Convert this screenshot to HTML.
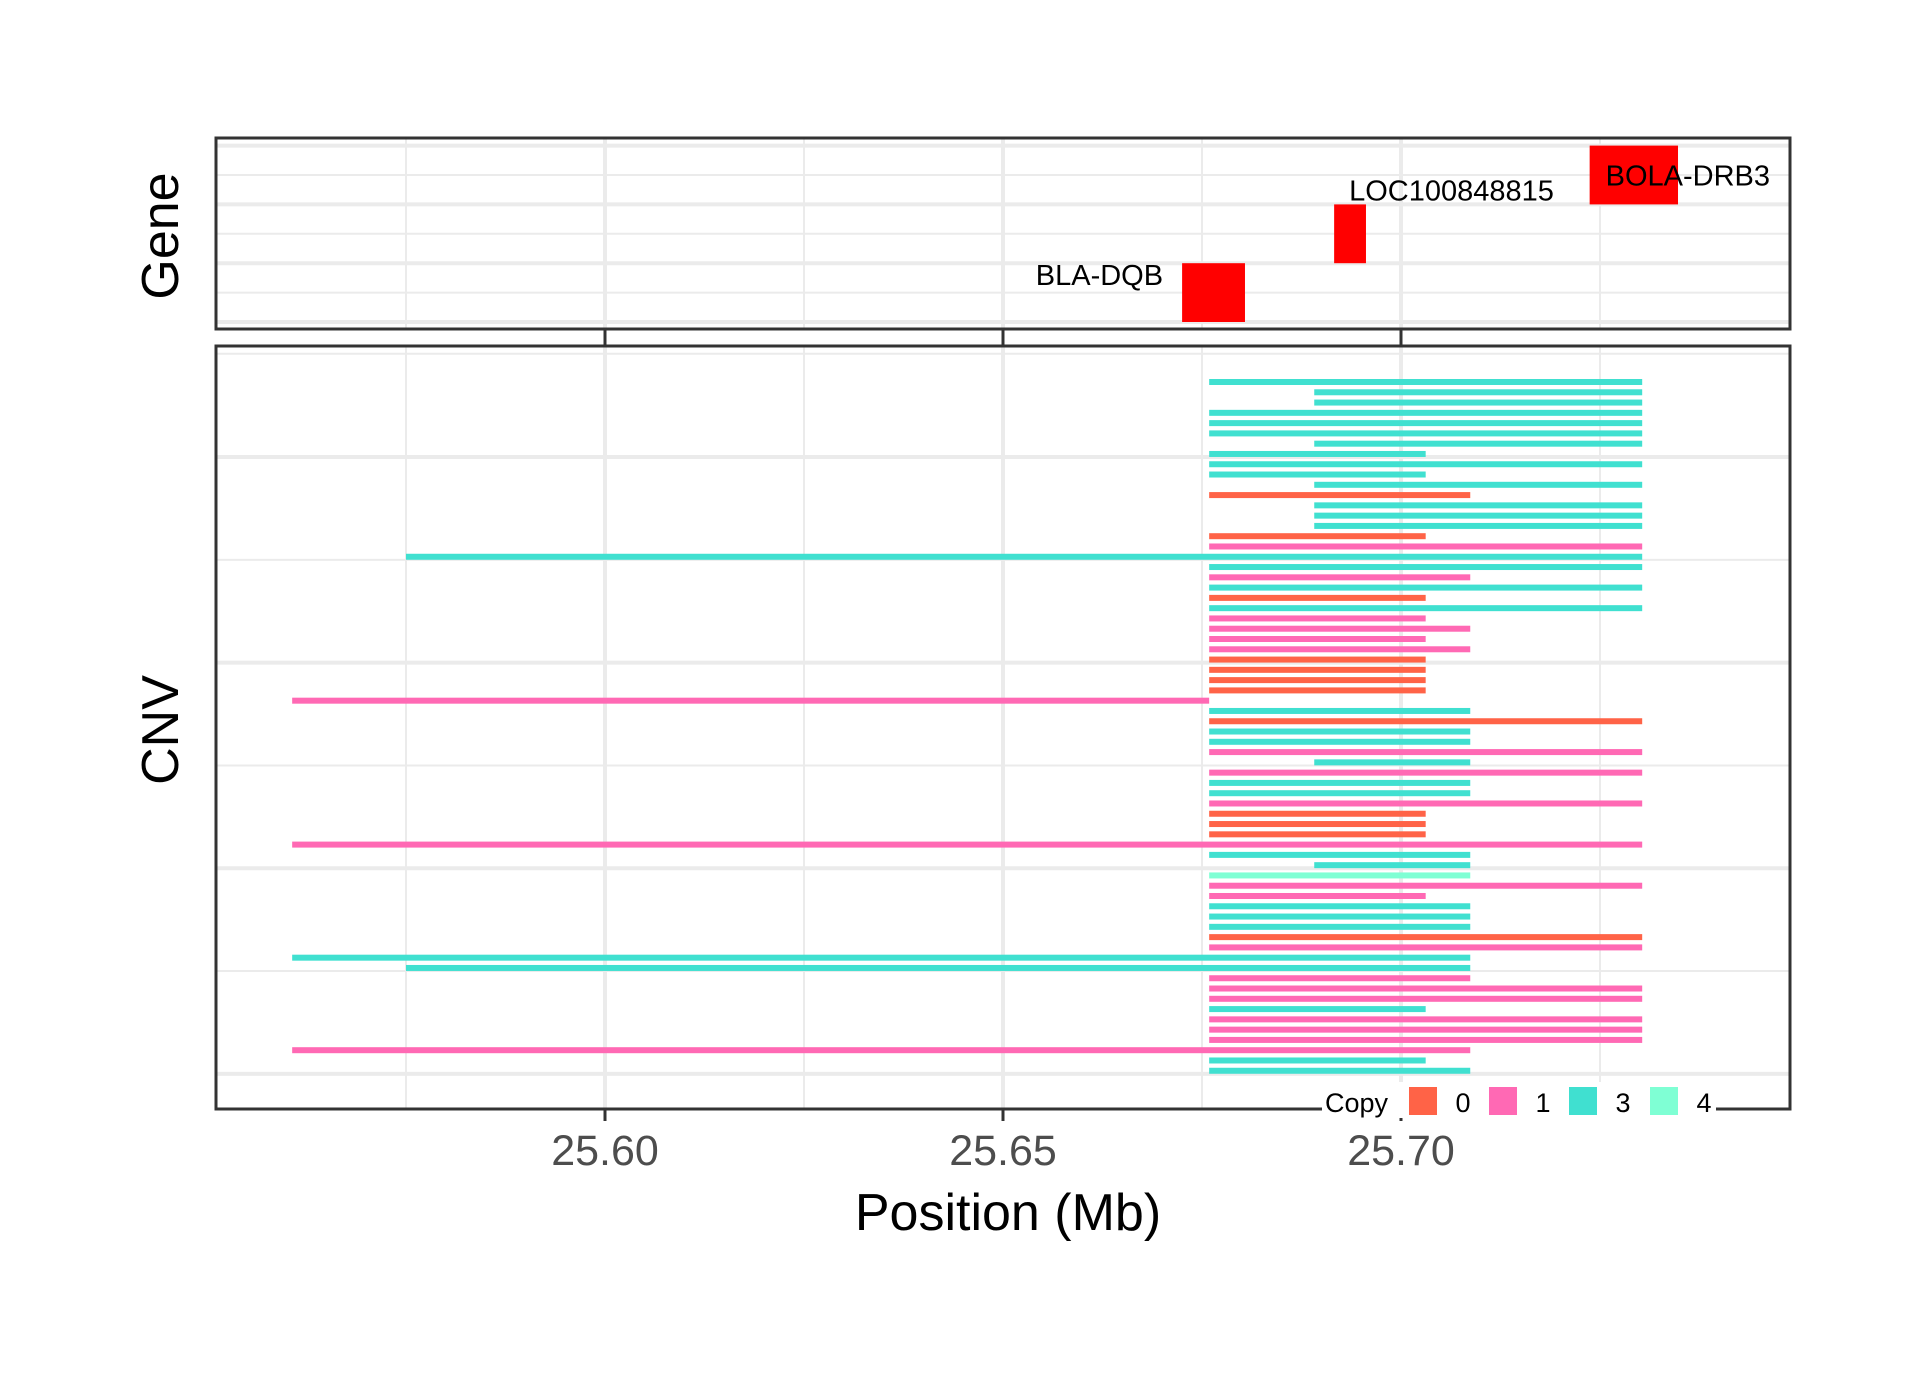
<!DOCTYPE html>
<html><head><meta charset="utf-8">
<style>
html,body{margin:0;padding:0;background:#fff;}
svg{display:block;font-family:"Liberation Sans",Arial,sans-serif;}
</style></head>
<body>
<svg id="chart" width="1929" height="1377" viewBox="0 0 1929 1377" xmlns="http://www.w3.org/2000/svg">
<rect x="0" y="0" width="1929" height="1377" fill="#fff"/>
<g id="gene-grid"></g>
<g id="cnv-grid"></g>
<g id="gene-marks"></g>
<g id="cnv-marks"></g>
<rect x="216" y="138" width="1574" height="191" fill="none" stroke="#333" stroke-width="3"/>
<rect x="216" y="346" width="1574" height="763" fill="none" stroke="#333" stroke-width="3"/>
<g id="ticks"></g>
<g id="legend"></g>
<text x="178" y="236" font-size="52" text-anchor="middle" transform="rotate(-90 178 236)" fill="#000">Gene</text>
<text x="178" y="730" font-size="52" text-anchor="middle" transform="rotate(-90 178 730)" fill="#000">CNV</text>
<text x="1008" y="1230" font-size="52" text-anchor="middle" fill="#000">Position (Mb)</text>
</svg>
<script>
// ---- data ----
const xTickValues = [25.60, 25.65, 25.70];
const xTickLabels = ["25.60", "25.65", "25.70"];
const xMinorValues = [25.575, 25.625, 25.675, 25.725];
const geneNames = ["BOLA-DRB3", "LOC100848815", "BLA-DQB"];
const geneStarts = [25.7237, 25.6916, 25.6725];
const geneEnds = [25.7348, 25.6956, 25.6804];
const geneLevels = [3, 2, 1];
const cnvStarts = [25.6759,25.6891,25.6891,25.6759,25.6759,25.6759,25.6891,25.6759,25.6759,25.6759,25.6891,25.6759,25.6891,25.6891,25.6891,25.6759,25.6759,25.5750,25.6759,25.6759,25.6759,25.6759,25.6759,25.6759,25.6759,25.6759,25.6759,25.6759,25.6759,25.6759,25.6759,25.5607,25.6759,25.6759,25.6759,25.6759,25.6759,25.6891,25.6759,25.6759,25.6759,25.6759,25.6759,25.6759,25.6759,25.5607,25.6759,25.6891,25.6759,25.6759,25.6759,25.6759,25.6759,25.6759,25.6759,25.6759,25.5607,25.5750,25.6759,25.6759,25.6759,25.6759,25.6759,25.6759,25.6759,25.5607,25.6759,25.6759];
const cnvEnds = [25.7303,25.7303,25.7303,25.7303,25.7303,25.7303,25.7303,25.7031,25.7303,25.7031,25.7303,25.7087,25.7303,25.7303,25.7303,25.7031,25.7303,25.7303,25.7303,25.7087,25.7303,25.7031,25.7303,25.7031,25.7087,25.7031,25.7087,25.7031,25.7031,25.7031,25.7031,25.6759,25.7087,25.7303,25.7087,25.7087,25.7303,25.7087,25.7303,25.7087,25.7087,25.7303,25.7031,25.7031,25.7031,25.7303,25.7087,25.7087,25.7087,25.7303,25.7031,25.7087,25.7087,25.7087,25.7303,25.7303,25.7087,25.7087,25.7087,25.7303,25.7303,25.7031,25.7303,25.7303,25.7303,25.7087,25.7031,25.7087];
const cnvCopy = [3,3,3,3,3,3,3,3,3,3,3,0,3,3,3,0,1,3,3,1,3,0,3,1,1,1,1,0,0,0,0,1,3,0,3,3,1,3,1,3,3,1,0,0,0,1,3,3,4,1,1,3,3,3,0,1,3,3,1,1,1,3,1,1,1,1,3,3];
const legendCopies = ["0", "1", "3", "4"];

// ---- scales ----
const NS = "http://www.w3.org/2000/svg";
const colorOf = {0:"#FF6347", 1:"#FF69B4", 3:"#40E0D0", 4:"#7FFFD4"};
function xs(v){ return 605 + (v - 25.60) * 7960; }
function yRow(i){ return 382 + i * 10.28; }
function yGene(l){ return 322 - (l - 0.5) * 58.8; }
function mk(tag, attrs, parent){
  const e = document.createElementNS(NS, tag);
  for (const k in attrs) e.setAttribute(k, attrs[k]);
  parent.appendChild(e);
  return e;
}
const geneGrid = document.getElementById('gene-grid');
const cnvGrid = document.getElementById('cnv-grid');
const geneMarks = document.getElementById('gene-marks');
const cnvMarks = document.getElementById('cnv-marks');
const ticks = document.getElementById('ticks');
const legend = document.getElementById('legend');

xMinorValues.forEach(v => {
  let l = mk('line', {x1:xs(v), x2:xs(v), y1:138, y2:329, stroke:"#EBEBEB", "stroke-width":2}, geneGrid);
  
  
  l = mk('line', {x1:xs(v), x2:xs(v), y1:346, y2:1109, stroke:"#EBEBEB", "stroke-width":2}, cnvGrid);
  
  
});
xTickValues.forEach(v => {
  let l = mk('line', {x1:xs(v), x2:xs(v), y1:138, y2:329, stroke:"#EBEBEB", "stroke-width":4}, geneGrid);
  
  
  l = mk('line', {x1:xs(v), x2:xs(v), y1:346, y2:1109, stroke:"#EBEBEB", "stroke-width":4}, cnvGrid);
  
  
});
[0.5,1.5,2.5,3.5].forEach(l => {
  const g = mk('line', {x1:216, x2:1790, y1:yGene(l), y2:yGene(l), stroke:"#EBEBEB", "stroke-width":4}, geneGrid);
  
  
});
[1,2,3].forEach(l => {
  const g = mk('line', {x1:216, x2:1790, y1:yGene(l), y2:yGene(l), stroke:"#EBEBEB", "stroke-width":2}, geneGrid);
  
  
});
[7.3,27.3,47.3,67.3].forEach(i => {
  const g = mk('line', {x1:216, x2:1790, y1:yRow(i), y2:yRow(i), stroke:"#EBEBEB", "stroke-width":4}, cnvGrid);
  
  
});
[-2.75,17.3,37.3,57.3].forEach(i => {
  const g = mk('line', {x1:216, x2:1790, y1:yRow(i), y2:yRow(i), stroke:"#EBEBEB", "stroke-width":2}, cnvGrid);
  
  
});

const labelDx = [16, 15, -19];
const labelDy = [-19, -4, 22];
const labelAnchor = ["start", "start", "end"];
geneNames.forEach((n, k) => {
  const x0 = xs(geneStarts[k]), x1 = xs(geneEnds[k]);
  const yTop = yGene(geneLevels[k] + 0.5), yBot = yGene(geneLevels[k] - 0.5);
  const r = mk('rect', {x:x0, y:yTop, width:x1 - x0, height:yBot - yTop, fill:"#FF0000"}, geneMarks);
  
  
  const t = mk('text', {x:x0 + labelDx[k], y:(k===0 ? yBot : yTop) + labelDy[k], "font-size":29, fill:"#000", "text-anchor":labelAnchor[k]}, geneMarks);
  t.textContent = n;
  
  
});

cnvStarts.forEach((s, i) => {
  const x0 = xs(s), x1 = xs(cnvEnds[i]);
  const r = mk('rect', {x:x0, y:yRow(i) - 3, width:x1 - x0, height:6, fill:colorOf[cnvCopy[i]]}, cnvMarks);
  
  
});

xTickValues.forEach((v, k) => {
  let t = mk('line', {x1:xs(v), x2:xs(v), y1:329, y2:346, stroke:"#333", "stroke-width":3}, ticks);
  
  
  t = mk('line', {x1:xs(v), x2:xs(v), y1:1109, y2:1121, stroke:"#333", "stroke-width":3}, ticks);
  
  
  const lb = mk('text', {x:xs(v), y:1165, "font-size":43, fill:"#4D4D4D", "text-anchor":"middle"}, ticks);
  lb.textContent = xTickLabels[k];
  
  
});

const bg = mk('rect', {x:1322, y:1082, width:394, height:36, fill:"#fff"}, legend);


const lt = mk('text', {x:1325, y:1112, "font-size":27, fill:"#000"}, legend);
lt.textContent = "Copy";


const keyX = [1409, 1489, 1569, 1650];
legendCopies.forEach((c, k) => {
  const r = mk('rect', {x:keyX[k], y:1087, width:28, height:28, fill:colorOf[+c]}, legend);
  
  
  const t = mk('text', {x:keyX[k] + 54, y:1112, "font-size":27, fill:"#000", "text-anchor":"middle"}, legend);
  t.textContent = c;
  
  
});
</script>
</body></html>
